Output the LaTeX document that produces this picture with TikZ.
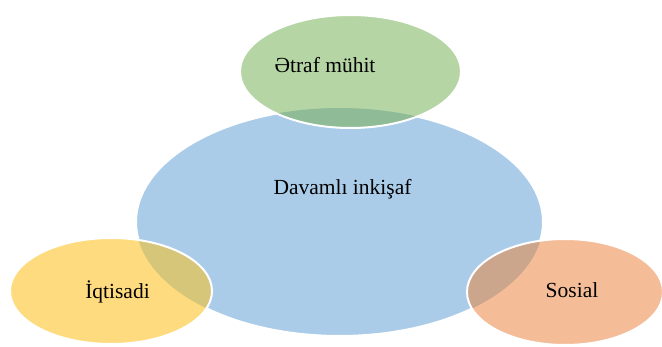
\documentclass[tikz,border=0pt]{standalone}
\usepackage{fontspec}
\setmainfont{Liberation Serif}
\definecolor{bluefill}{HTML}{ABCCE9}
\definecolor{greenfill}{HTML}{B6D5A4}
\definecolor{greenover}{HTML}{8FBC96}
\definecolor{yellowfill}{HTML}{FEDB7E}
\definecolor{yellowover}{HTML}{D6C679}
\definecolor{orangefill}{HTML}{F4BD98}
\definecolor{orangeover}{HTML}{CBA58C}
\begin{document}
\begin{tikzpicture}[x=1pt,y=-1pt,
  rim/.style={draw=white,line width=2pt},
  label/.style={anchor=base,inner sep=0pt,font=\fontsize{21.5}{24}\selectfont,text=black}]
\useasboundingbox (0,0) rectangle (662,347);
\fill[white] (0,0) rectangle (662,347);

% central ellipse
\fill[bluefill] (339.5,222) ellipse [x radius=203.5,y radius=114];
\draw[rim] (339.5,222) ellipse [x radius=203.5,y radius=114];

% top ellipse
\fill[greenfill] (350.5,71.5) ellipse [x radius=110.5,y radius=56.5];
\begin{scope}
  \clip (339.5,222) ellipse [x radius=203.5,y radius=114];
  \fill[greenover] (350.5,71.5) ellipse [x radius=110.5,y radius=56.5];
\end{scope}
\draw[rim] (350.5,71.5) ellipse [x radius=110.5,y radius=56.5];

% left ellipse
\fill[yellowfill] (111,291) ellipse [x radius=101,y radius=53];
\begin{scope}
  \clip (339.5,222) ellipse [x radius=203.5,y radius=114];
  \fill[yellowover] (111,291) ellipse [x radius=101,y radius=53];
\end{scope}
\draw[rim] (111,291) ellipse [x radius=101,y radius=53];

% right ellipse
\fill[orangefill] (565,292) ellipse [x radius=98,y radius=53];
\begin{scope}
  \clip (339.5,222) ellipse [x radius=203.5,y radius=114];
  \fill[orangeover] (565,292) ellipse [x radius=98,y radius=53];
\end{scope}
\draw[rim] (565,292) ellipse [x radius=98,y radius=53];

% labels
\node[label] (env) at (325,72.7) {Ətraf mühit};
\node[label] (sust) at (342.5,195) {Davamlı inkişaf};
\node[label] (econ) at (117.5,298.3) {İqtisadi};
\node[label] (soc) at (572,297.7) {Sosial};
\end{tikzpicture}
\end{document}
